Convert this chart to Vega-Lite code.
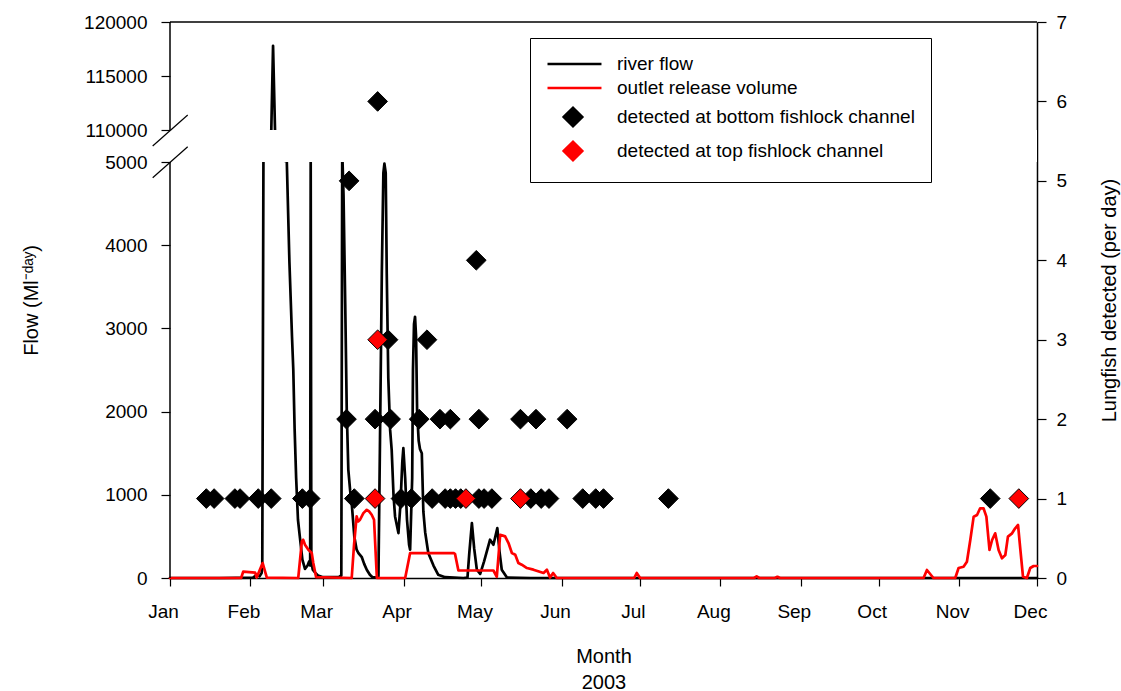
{
  "$schema": "https://vega.github.io/schema/vega-lite/v6.json",
  "width": 867,
  "height": 556,
  "autosize": {"type": "none"},
  "padding": {"left": 170, "top": 22, "right": 84, "bottom": 113},
  "background": "white",
  "config": {
    "view": {"stroke": null},
    "font": "Liberation Sans",
    "axis": {
      "labelFont": "Liberation Sans",
      "titleFont": "Liberation Sans",
      "labelColor": "black",
      "titleColor": "black",
      "tickColor": "black",
      "domainColor": "black",
      "domainWidth": 1.5,
      "tickWidth": 1.2,
      "grid": false,
      "labelFontSize": 19,
      "titleFontSize": 20,
      "titleFontWeight": "normal"
    }
  },
  "datasets": {
    "flows": [
      {"series": "river flow", "doy": 1, "flow": 0}, {"series": "river flow", "doy": 20, "flow": 0}, {"series": "river flow", "doy": 33, "flow": 5}, {"series": "river flow", "doy": 34.5, "flow": 40},
      {"series": "river flow", "doy": 35.5, "flow": 20}, {"series": "river flow", "doy": 36.3, "flow": 60}, {"series": "river flow", "doy": 36.55, "flow": 150}, {"series": "river flow", "doy": 37, "flow": 30000},
      {"series": "river flow", "doy": 38, "flow": 60000}, {"series": "river flow", "doy": 39, "flow": 85000}, {"series": "river flow", "doy": 40, "flow": 100000}, {"series": "river flow", "doy": 40.7, "flow": 117800},
      {"series": "river flow", "doy": 41.5, "flow": 95000}, {"series": "river flow", "doy": 42, "flow": 70000}, {"series": "river flow", "doy": 43, "flow": 40000}, {"series": "river flow", "doy": 44, "flow": 20000},
      {"series": "river flow", "doy": 45, "flow": 10000}, {"series": "river flow", "doy": 46, "flow": 6000}, {"series": "river flow", "doy": 47, "flow": 3800}, {"series": "river flow", "doy": 48, "flow": 2900},
      {"series": "river flow", "doy": 48.5, "flow": 2500}, {"series": "river flow", "doy": 49, "flow": 1800}, {"series": "river flow", "doy": 49.6, "flow": 1200}, {"series": "river flow", "doy": 50.3, "flow": 700},
      {"series": "river flow", "doy": 51, "flow": 500}, {"series": "river flow", "doy": 52, "flow": 220}, {"series": "river flow", "doy": 53, "flow": 110}, {"series": "river flow", "doy": 54, "flow": 150},
      {"series": "river flow", "doy": 54.6, "flow": 200}, {"series": "river flow", "doy": 55, "flow": 150}, {"series": "river flow", "doy": 55.2, "flow": 25000}, {"series": "river flow", "doy": 55.45, "flow": 200},
      {"series": "river flow", "doy": 56, "flow": 100}, {"series": "river flow", "doy": 57, "flow": 60}, {"series": "river flow", "doy": 58, "flow": 30}, {"series": "river flow", "doy": 60, "flow": 10},
      {"series": "river flow", "doy": 66, "flow": 10}, {"series": "river flow", "doy": 67, "flow": 30}, {"series": "river flow", "doy": 67.35, "flow": 40000}, {"series": "river flow", "doy": 67.85, "flow": 4600},
      {"series": "river flow", "doy": 68.5, "flow": 3300}, {"series": "river flow", "doy": 69.1, "flow": 2000}, {"series": "river flow", "doy": 69.7, "flow": 1300}, {"series": "river flow", "doy": 70.4, "flow": 1050},
      {"series": "river flow", "doy": 71, "flow": 900}, {"series": "river flow", "doy": 72, "flow": 500}, {"series": "river flow", "doy": 72.9, "flow": 340}, {"series": "river flow", "doy": 73.6, "flow": 300},
      {"series": "river flow", "doy": 74.9, "flow": 250}, {"series": "river flow", "doy": 75.8, "flow": 170}, {"series": "river flow", "doy": 76.8, "flow": 100}, {"series": "river flow", "doy": 78, "flow": 40},
      {"series": "river flow", "doy": 79, "flow": 10}, {"series": "river flow", "doy": 80.5, "flow": 5}, {"series": "river flow", "doy": 81.3, "flow": 20}, {"series": "river flow", "doy": 81.9, "flow": 1660},
      {"series": "river flow", "doy": 82.6, "flow": 3660}, {"series": "river flow", "doy": 83.2, "flow": 4870}, {"series": "river flow", "doy": 83.6, "flow": 4980}, {"series": "river flow", "doy": 84.1, "flow": 4870},
      {"series": "river flow", "doy": 84.5, "flow": 3660}, {"series": "river flow", "doy": 85.1, "flow": 2400}, {"series": "river flow", "doy": 85.8, "flow": 1780}, {"series": "river flow", "doy": 86.4, "flow": 1540},
      {"series": "river flow", "doy": 87.1, "flow": 1000}, {"series": "river flow", "doy": 87.7, "flow": 740}, {"series": "river flow", "doy": 89, "flow": 540}, {"series": "river flow", "doy": 89.8, "flow": 900},
      {"series": "river flow", "doy": 90.5, "flow": 1400}, {"series": "river flow", "doy": 90.9, "flow": 1560}, {"series": "river flow", "doy": 91.6, "flow": 1200}, {"series": "river flow", "doy": 92.3, "flow": 700},
      {"series": "river flow", "doy": 93.1, "flow": 400}, {"series": "river flow", "doy": 93.5, "flow": 340}, {"series": "river flow", "doy": 94.3, "flow": 1200}, {"series": "river flow", "doy": 94.6, "flow": 2500},
      {"series": "river flow", "doy": 95, "flow": 3050}, {"series": "river flow", "doy": 95.4, "flow": 3140}, {"series": "river flow", "doy": 95.8, "flow": 2900}, {"series": "river flow", "doy": 96.2, "flow": 2000},
      {"series": "river flow", "doy": 96.8, "flow": 1650}, {"series": "river flow", "doy": 97.3, "flow": 1550}, {"series": "river flow", "doy": 98, "flow": 1500}, {"series": "river flow", "doy": 98.6, "flow": 800},
      {"series": "river flow", "doy": 99.3, "flow": 550}, {"series": "river flow", "doy": 100.5, "flow": 300}, {"series": "river flow", "doy": 102.5, "flow": 150}, {"series": "river flow", "doy": 104.3, "flow": 40},
      {"series": "river flow", "doy": 107, "flow": 10}, {"series": "river flow", "doy": 114, "flow": 0}, {"series": "river flow", "doy": 115.6, "flow": 5}, {"series": "river flow", "doy": 116.3, "flow": 300},
      {"series": "river flow", "doy": 117.3, "flow": 660}, {"series": "river flow", "doy": 118.2, "flow": 350}, {"series": "river flow", "doy": 119.2, "flow": 100}, {"series": "river flow", "doy": 120.5, "flow": 50},
      {"series": "river flow", "doy": 122, "flow": 200}, {"series": "river flow", "doy": 124.3, "flow": 460}, {"series": "river flow", "doy": 125.6, "flow": 400}, {"series": "river flow", "doy": 127.1, "flow": 600},
      {"series": "river flow", "doy": 128, "flow": 300}, {"series": "river flow", "doy": 128.8, "flow": 100}, {"series": "river flow", "doy": 130.8, "flow": 5}, {"series": "river flow", "doy": 140, "flow": 0},
      {"series": "river flow", "doy": 335, "flow": 0},
      {"series": "outlet release volume", "doy": 1, "flow": 0}, {"series": "outlet release volume", "doy": 28.4, "flow": 0}, {"series": "outlet release volume", "doy": 29.2, "flow": 76}, {"series": "outlet release volume", "doy": 33.8, "flow": 64},
      {"series": "outlet release volume", "doy": 34.4, "flow": 5}, {"series": "outlet release volume", "doy": 35.1, "flow": 60}, {"series": "outlet release volume", "doy": 36.7, "flow": 180}, {"series": "outlet release volume", "doy": 38.3, "flow": 5},
      {"series": "outlet release volume", "doy": 50.4, "flow": 0}, {"series": "outlet release volume", "doy": 51.8, "flow": 440}, {"series": "outlet release volume", "doy": 52.3, "flow": 460}, {"series": "outlet release volume", "doy": 53, "flow": 400},
      {"series": "outlet release volume", "doy": 54.3, "flow": 340}, {"series": "outlet release volume", "doy": 55.6, "flow": 300}, {"series": "outlet release volume", "doy": 56.2, "flow": 180}, {"series": "outlet release volume", "doy": 57.3, "flow": 10},
      {"series": "outlet release volume", "doy": 71, "flow": 0}, {"series": "outlet release volume", "doy": 71.9, "flow": 400}, {"series": "outlet release volume", "doy": 72.9, "flow": 740}, {"series": "outlet release volume", "doy": 73.5, "flow": 680},
      {"series": "outlet release volume", "doy": 74.2, "flow": 700}, {"series": "outlet release volume", "doy": 75.5, "flow": 780}, {"series": "outlet release volume", "doy": 76.8, "flow": 820}, {"series": "outlet release volume", "doy": 77.7, "flow": 800},
      {"series": "outlet release volume", "doy": 78.7, "flow": 760}, {"series": "outlet release volume", "doy": 79.6, "flow": 700}, {"series": "outlet release volume", "doy": 80.7, "flow": 0}, {"series": "outlet release volume", "doy": 91.6, "flow": 0},
      {"series": "outlet release volume", "doy": 93.5, "flow": 300}, {"series": "outlet release volume", "doy": 110.2, "flow": 300}, {"series": "outlet release volume", "doy": 110.8, "flow": 290}, {"series": "outlet release volume", "doy": 112.1, "flow": 90},
      {"series": "outlet release volume", "doy": 125.6, "flow": 90}, {"series": "outlet release volume", "doy": 126.9, "flow": 15}, {"series": "outlet release volume", "doy": 128.2, "flow": 520}, {"series": "outlet release volume", "doy": 130.1, "flow": 500},
      {"series": "outlet release volume", "doy": 131.4, "flow": 420}, {"series": "outlet release volume", "doy": 132.7, "flow": 300}, {"series": "outlet release volume", "doy": 134, "flow": 280}, {"series": "outlet release volume", "doy": 135.2, "flow": 180},
      {"series": "outlet release volume", "doy": 136.5, "flow": 160}, {"series": "outlet release volume", "doy": 138.5, "flow": 120}, {"series": "outlet release volume", "doy": 141, "flow": 100}, {"series": "outlet release volume", "doy": 144.9, "flow": 60},
      {"series": "outlet release volume", "doy": 146.2, "flow": 100}, {"series": "outlet release volume", "doy": 147.4, "flow": 5}, {"series": "outlet release volume", "doy": 148.6, "flow": 60}, {"series": "outlet release volume", "doy": 150, "flow": 0},
      {"series": "outlet release volume", "doy": 179.8, "flow": 0}, {"series": "outlet release volume", "doy": 180.8, "flow": 60}, {"series": "outlet release volume", "doy": 182.1, "flow": 0}, {"series": "outlet release volume", "doy": 226, "flow": 0},
      {"series": "outlet release volume", "doy": 227, "flow": 20}, {"series": "outlet release volume", "doy": 228, "flow": 0}, {"series": "outlet release volume", "doy": 234, "flow": 0}, {"series": "outlet release volume", "doy": 235, "flow": 15},
      {"series": "outlet release volume", "doy": 236, "flow": 0}, {"series": "outlet release volume", "doy": 291.3, "flow": 0}, {"series": "outlet release volume", "doy": 292.6, "flow": 96}, {"series": "outlet release volume", "doy": 295.1, "flow": 0},
      {"series": "outlet release volume", "doy": 303.5, "flow": 0}, {"series": "outlet release volume", "doy": 304.8, "flow": 120}, {"series": "outlet release volume", "doy": 306.7, "flow": 136}, {"series": "outlet release volume", "doy": 308, "flow": 196},
      {"series": "outlet release volume", "doy": 309.3, "flow": 456}, {"series": "outlet release volume", "doy": 310.6, "flow": 737}, {"series": "outlet release volume", "doy": 311.9, "flow": 757}, {"series": "outlet release volume", "doy": 313.1, "flow": 838},
      {"series": "outlet release volume", "doy": 314.4, "flow": 838}, {"series": "outlet release volume", "doy": 315.5, "flow": 737}, {"series": "outlet release volume", "doy": 316.7, "flow": 337}, {"series": "outlet release volume", "doy": 317.7, "flow": 457},
      {"series": "outlet release volume", "doy": 318.9, "flow": 537}, {"series": "outlet release volume", "doy": 320.2, "flow": 337}, {"series": "outlet release volume", "doy": 321.5, "flow": 237}, {"series": "outlet release volume", "doy": 322.8, "flow": 276},
      {"series": "outlet release volume", "doy": 323.8, "flow": 497}, {"series": "outlet release volume", "doy": 325.4, "flow": 537}, {"series": "outlet release volume", "doy": 326.6, "flow": 597}, {"series": "outlet release volume", "doy": 327.7, "flow": 637},
      {"series": "outlet release volume", "doy": 328.6, "flow": 337}, {"series": "outlet release volume", "doy": 329.6, "flow": 16}, {"series": "outlet release volume", "doy": 331.1, "flow": 0}, {"series": "outlet release volume", "doy": 332.4, "flow": 120},
      {"series": "outlet release volume", "doy": 333.7, "flow": 144}, {"series": "outlet release volume", "doy": 335, "flow": 144}
    ],
    "detections": [
      {"doy": 15, "count": 1, "series": "detected at bottom fishlock channel"},
      {"doy": 18, "count": 1, "series": "detected at bottom fishlock channel"},
      {"doy": 26, "count": 1, "series": "detected at bottom fishlock channel"},
      {"doy": 28, "count": 1, "series": "detected at bottom fishlock channel"},
      {"doy": 35, "count": 1, "series": "detected at bottom fishlock channel"},
      {"doy": 40, "count": 1, "series": "detected at bottom fishlock channel"},
      {"doy": 52, "count": 1, "series": "detected at bottom fishlock channel"},
      {"doy": 55, "count": 1, "series": "detected at bottom fishlock channel"},
      {"doy": 72, "count": 1, "series": "detected at bottom fishlock channel"},
      {"doy": 90, "count": 1, "series": "detected at bottom fishlock channel"},
      {"doy": 94, "count": 1, "series": "detected at bottom fishlock channel"},
      {"doy": 102, "count": 1, "series": "detected at bottom fishlock channel"},
      {"doy": 107, "count": 1, "series": "detected at bottom fishlock channel"},
      {"doy": 109, "count": 1, "series": "detected at bottom fishlock channel"},
      {"doy": 111, "count": 1, "series": "detected at bottom fishlock channel"},
      {"doy": 113, "count": 1, "series": "detected at bottom fishlock channel"},
      {"doy": 120, "count": 1, "series": "detected at bottom fishlock channel"},
      {"doy": 122, "count": 1, "series": "detected at bottom fishlock channel"},
      {"doy": 125, "count": 1, "series": "detected at bottom fishlock channel"},
      {"doy": 140, "count": 1, "series": "detected at bottom fishlock channel"},
      {"doy": 144, "count": 1, "series": "detected at bottom fishlock channel"},
      {"doy": 147, "count": 1, "series": "detected at bottom fishlock channel"},
      {"doy": 160, "count": 1, "series": "detected at bottom fishlock channel"},
      {"doy": 165, "count": 1, "series": "detected at bottom fishlock channel"},
      {"doy": 168, "count": 1, "series": "detected at bottom fishlock channel"},
      {"doy": 193, "count": 1, "series": "detected at bottom fishlock channel"},
      {"doy": 317, "count": 1, "series": "detected at bottom fishlock channel"},
      {"doy": 69, "count": 2, "series": "detected at bottom fishlock channel"},
      {"doy": 80, "count": 2, "series": "detected at bottom fishlock channel"},
      {"doy": 86, "count": 2, "series": "detected at bottom fishlock channel"},
      {"doy": 97, "count": 2, "series": "detected at bottom fishlock channel"},
      {"doy": 105, "count": 2, "series": "detected at bottom fishlock channel"},
      {"doy": 109, "count": 2, "series": "detected at bottom fishlock channel"},
      {"doy": 120, "count": 2, "series": "detected at bottom fishlock channel"},
      {"doy": 136, "count": 2, "series": "detected at bottom fishlock channel"},
      {"doy": 142, "count": 2, "series": "detected at bottom fishlock channel"},
      {"doy": 154, "count": 2, "series": "detected at bottom fishlock channel"},
      {"doy": 85, "count": 3, "series": "detected at bottom fishlock channel"},
      {"doy": 100, "count": 3, "series": "detected at bottom fishlock channel"},
      {"doy": 119, "count": 4, "series": "detected at bottom fishlock channel"},
      {"doy": 70, "count": 5, "series": "detected at bottom fishlock channel"},
      {"doy": 81, "count": 6, "series": "detected at bottom fishlock channel"},
      {"doy": 80, "count": 1, "series": "detected at top fishlock channel"},
      {"doy": 115, "count": 1, "series": "detected at top fishlock channel"},
      {"doy": 136, "count": 1, "series": "detected at top fishlock channel"},
      {"doy": 328, "count": 1, "series": "detected at top fishlock channel"},
      {"doy": 81, "count": 3, "series": "detected at top fishlock channel"}
    ],
    "axis_gap": [{"doy_from": 1, "doy_to": 335, "lo": 5000, "hi": 110000}],
    "frame_top": [{"doy_from": 1, "doy_to": 335, "flow": 120000}],
    "axis_segments": [{"doy": 1, "lo": 0, "hi": 5000}, {"doy": 1, "lo": 110000, "hi": 120000}],
    "break_marks": [
      {"doy": -5.67, "flow": 57500, "pair": "upper"}, {"doy": 7.82, "flow": 111389, "pair": "upper"},
      {"doy": -5.67, "flow": 4811, "pair": "lower"}, {"doy": 7.82, "flow": 55203, "pair": "lower"}
    ]
  },
  "layer": [
    {
      "layer": [
        {
          "data": {"name": "flows"},
          "transform": [{"filter": "datum.series === 'river flow'"}],
          "mark": {"type": "line", "strokeWidth": 2.7, "strokeJoin": "round", "strokeCap": "round"},
          "encoding": {
            "x": {
              "field": "doy", "type": "quantitative",
              "scale": {"domain": [1, 335], "nice": false, "zero": false},
              "axis": {
                "values": [1, 32, 60, 91, 121, 152, 182, 213, 244, 274, 305, 335],
                "labelExpr": "['Jan','Feb','Mar','Apr','May','Jun','Jul','Aug','Sep','Oct','Nov','Dec'][indexof([1,32,60,91,121,152,182,213,244,274,305,335], datum.value)]",
                "title": ["Month", "2003"],
                "tickSize": 8,
                "labelPadding": 16,
                "labelOffset": -7,
                "labelFlush": false,
                "labelOverlap": false,
                "titleLineHeight": 26,
                "titlePadding": 25
              }
            },
            "y": {
              "field": "flow", "type": "quantitative",
              "scale": {"domain": [0, 5000, 110000, 120000], "range": [556, 140, 108, 0], "nice": false, "zero": false},
              "axis": {
                "values": [0, 1000, 2000, 3000, 4000, 5000, 110000, 115000, 120000],
                "format": "d",
                "domain": false,
                "tickSize": 9,
                "labelPadding": 14,
                "title": "Flow (Ml⁻ᵈᵃʸ)",
                "titlePadding": 42
              }
            },
            "color": {
              "field": "series", "type": "nominal",
              "scale": {
                "domain": ["river flow", "outlet release volume", "detected at bottom fishlock channel", "detected at top fishlock channel"],
                "range": ["black", "#ff0000", "black", "#ff0000"]
              }
            }
          }
        },
        {
          "data": {"name": "flows"},
          "transform": [{"filter": "datum.series === 'outlet release volume'"}],
          "mark": {"type": "line", "strokeWidth": 2.7, "strokeJoin": "round", "strokeCap": "round"},
          "encoding": {
            "x": {"field": "doy", "type": "quantitative", "scale": {"domain": [1, 335], "nice": false, "zero": false}},
            "y": {"field": "flow", "type": "quantitative", "scale": {"domain": [0, 5000, 110000, 120000], "range": [556, 140, 108, 0], "nice": false, "zero": false}},
            "color": {
              "field": "series", "type": "nominal",
              "scale": {
                "domain": ["river flow", "outlet release volume", "detected at bottom fishlock channel", "detected at top fishlock channel"],
                "range": ["black", "#ff0000", "black", "#ff0000"]
              }
            }
          }
        },
        {
          "data": {"name": "axis_gap"},
          "mark": {"type": "rect", "fill": "white"},
          "encoding": {
            "x": {"field": "doy_from", "type": "quantitative", "scale": {"domain": [1, 335], "nice": false, "zero": false}},
            "x2": {"field": "doy_to"},
            "y": {"field": "lo", "type": "quantitative", "scale": {"domain": [0, 5000, 110000, 120000], "range": [556, 140, 108, 0], "nice": false, "zero": false}},
            "y2": {"field": "hi"}
          }
        },
        {
          "data": {"name": "axis_segments"},
          "mark": {"type": "rule", "color": "black", "strokeWidth": 1.5},
          "encoding": {
            "x": {"field": "doy", "type": "quantitative", "scale": {"domain": [1, 335], "nice": false, "zero": false}},
            "y": {"field": "lo", "type": "quantitative", "scale": {"domain": [0, 5000, 110000, 120000], "range": [556, 140, 108, 0], "nice": false, "zero": false}},
            "y2": {"field": "hi"}
          }
        },
        {
          "data": {"name": "frame_top"},
          "mark": {"type": "rule", "color": "black", "strokeWidth": 1.5},
          "encoding": {
            "x": {"field": "doy_from", "type": "quantitative", "scale": {"domain": [1, 335], "nice": false, "zero": false}},
            "x2": {"field": "doy_to"},
            "y": {"field": "flow", "type": "quantitative", "scale": {"domain": [0, 5000, 110000, 120000], "range": [556, 140, 108, 0], "nice": false, "zero": false}}
          }
        },
        {
          "data": {"name": "break_marks"},
          "mark": {"type": "line", "color": "black", "strokeWidth": 1.2, "clip": false},
          "encoding": {
            "x": {"field": "doy", "type": "quantitative", "scale": {"domain": [1, 335], "nice": false, "zero": false}},
            "y": {"field": "flow", "type": "quantitative", "scale": {"domain": [0, 5000, 110000, 120000], "range": [556, 140, 108, 0], "nice": false, "zero": false}},
            "detail": {"field": "pair"}
          }
        }
      ]
    },
    {
      "data": {"name": "detections"},
      "mark": {"type": "point", "filled": true, "size": 320, "stroke": "black", "strokeWidth": 1, "opacity": 1, "xOffset": -17.9},
      "encoding": {
        "x": {"field": "doy", "type": "quantitative", "scale": {"domain": [1, 335], "nice": false, "zero": false}},
        "y": {
          "field": "count", "type": "quantitative",
          "scale": {"domain": [0, 7], "nice": false, "zero": true},
          "axis": {
            "orient": "right",
            "values": [0, 1, 2, 3, 4, 5, 6, 7],
            "tickSize": 9,
            "labelPadding": 10,
            "title": "Lungfish detected (per day)",
            "titleAngle": 270,
            "titlePadding": 53
          }
        },
        "color": {
          "field": "series", "type": "nominal",
          "scale": {
            "domain": ["river flow", "outlet release volume", "detected at bottom fishlock channel", "detected at top fishlock channel"],
            "range": ["black", "#ff0000", "black", "#ff0000"]
          },
          "legend": {
            "title": null, "orient": "none", "legendX": 360, "legendY": 16,
            "padding": 16, "strokeColor": "black", "fillColor": "white",
            "symbolSize": 289, "symbolStrokeWidth": 2.5,
            "labelFont": "Liberation Sans", "labelFontSize": 19, "labelColor": "black",
            "labelOffset": 51, "rowPadding": 4, "labelLimit": 500,
            "values": ["river flow", "outlet release volume", "detected at bottom fishlock channel", "detected at top fishlock channel"],
            "encode": {"symbols": {"update": {
              "fill": {"condition": [{"test": "datum.value === 'detected at bottom fishlock channel'", "value": "black"}, {"test": "datum.value === 'detected at top fishlock channel'", "value": "#ff0000"}], "value": "transparent"},
              "stroke": {"condition": {"test": "datum.value === 'outlet release volume'", "value": "#ff0000"}, "value": "black"},
              "strokeWidth": {"condition": {"test": "datum.value === 'river flow' || datum.value === 'outlet release volume'", "value": 2.7}, "value": 1},
              "opacity": {"value": 1}
            }}}
          }
        },
        "shape": {
          "field": "series", "type": "nominal",
          "scale": {
            "domain": ["river flow", "outlet release volume", "detected at bottom fishlock channel", "detected at top fishlock channel"],
            "range": ["M-1,0H5.35", "M-1,0H5.35", "M0.9,0L2,-1.1L3.1,0L2,1.1Z", "M0.9,0L2,-1.1L3.1,0L2,1.1Z"]
          }
        }
      }
    }
  ],
  "resolve": {"scale": {"y": "independent"}}
}
